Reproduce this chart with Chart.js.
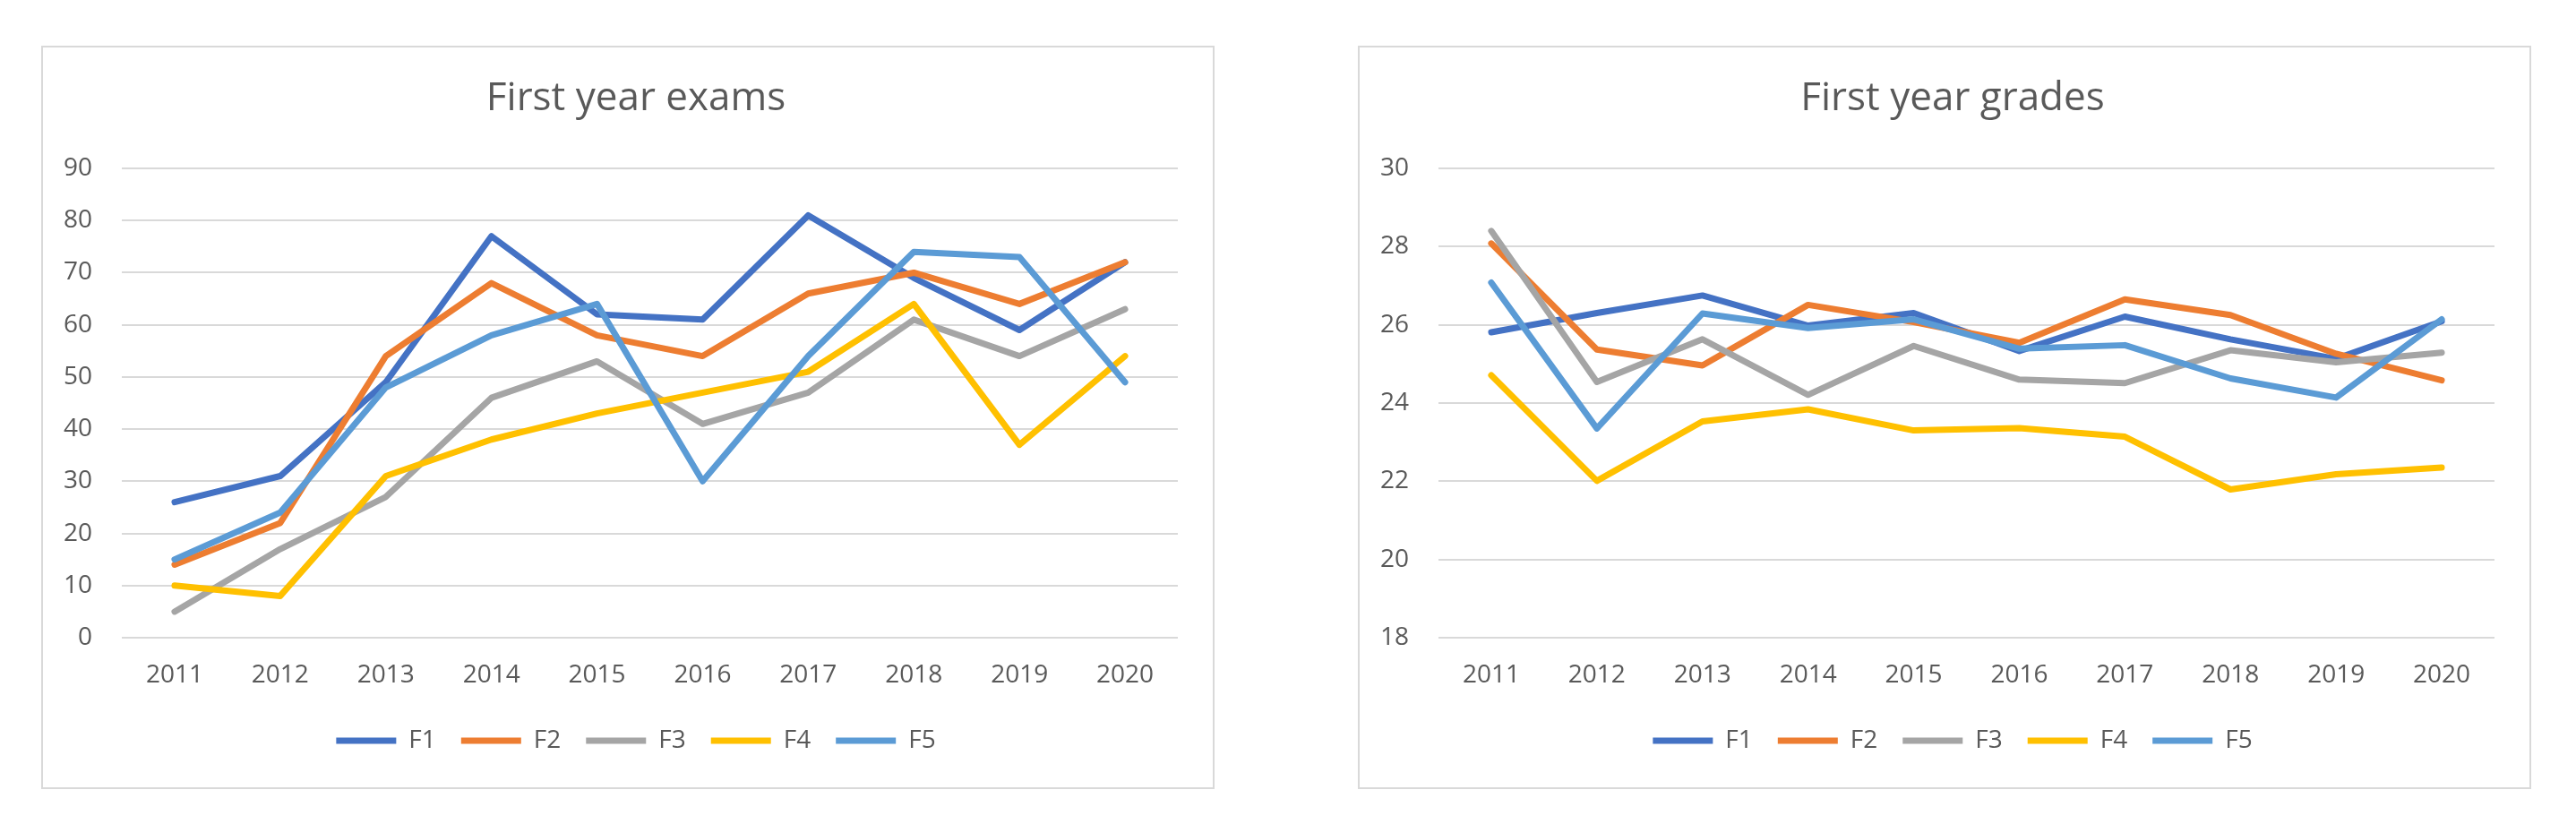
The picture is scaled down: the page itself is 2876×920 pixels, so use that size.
<!DOCTYPE html>
<html><head><meta charset="utf-8">
<script src="https://cdn.jsdelivr.net/npm/chart.js@4"></script>
<style>
html,body{margin:0;padding:0;background:#fff;width:2876px;height:920px;overflow:hidden}
.box{position:absolute;top:51px;width:1306px;height:826px;border:2px solid #D9D9D9;background:#fff}
.box canvas{position:absolute;left:0;top:0}
</style></head><body>
<div class="box" style="left:46px"><canvas id="c1" width="1306" height="826"></canvas></div>
<div class="box" style="left:1516px"><canvas id="c2" width="1306" height="826"></canvas></div>
<script>
const categories = ['2011','2012','2013','2014','2015','2016','2017','2018','2019','2020'];
const seriesNames = ['F1','F2','F3','F4','F5'];

// First year exams
const examsF1 = [26, 31, 49, 77, 62, 61, 81, 69, 59, 72];
const examsF2 = [14, 22, 54, 68, 58, 54, 66, 70, 64, 72];
const examsF3 = [5, 17, 27, 46, 53, 41, 47, 61, 54, 63];
const examsF4 = [10, 8, 31, 38, 43, 47, 51, 64, 37, 54];
const examsF5 = [15, 24, 48, 58, 64, 30, 54, 74, 73, 49];
const examsTicks = [0, 10, 20, 30, 40, 50, 60, 70, 80, 90];

// First year grades
const gradesF1 = [25.81, 26.3, 26.75, 25.98, 26.3, 25.33, 26.21, 25.63, 25.13, 26.09];
const gradesF2 = [28.08, 25.37, 24.96, 26.51, 26.07, 25.54, 26.65, 26.25, 25.26, 24.58];
const gradesF3 = [28.4, 24.54, 25.63, 24.21, 25.46, 24.6, 24.51, 25.35, 25.04, 25.29];
const gradesF4 = [24.71, 22.01, 23.53, 23.84, 23.3, 23.36, 23.14, 21.79, 22.18, 22.35];
const gradesF5 = [27.08, 23.35, 26.29, 25.92, 26.14, 25.39, 25.48, 24.63, 24.14, 26.14];
const gradesTicks = [18, 20, 22, 24, 26, 28, 30];

const colors = ['#4472C4', '#ED7D31', '#A5A5A5', '#FFC000', '#5B9BD5'];
const textColor = '#595959';
const FONT = "'Open Sans', 'Noto Sans', sans-serif";

function makeChart(id, title, series, ticks) {
  const datasets = series.map((d, i) => ({
    label: seriesNames[i],
    data: d,
    borderColor: colors[i],
    backgroundColor: colors[i],
    borderWidth: 7,
    borderCapStyle: 'round',
    borderJoinStyle: 'round',
    pointRadius: 0,
    pointHoverRadius: 0,
    tension: 0,
    fill: false,
    order: series.length - i
  }));
  const step = ticks[1] - ticks[0];
  return new Chart(document.getElementById(id), {
    type: 'line',
    data: { labels: categories, datasets },
    options: {
      responsive: false,
      animation: false,
      devicePixelRatio: 1,
      layout: { padding: { left: 57, right: 39, top: 0, bottom: 28 } },
      plugins: {
        title: {
          display: true,
          text: title,
          color: textColor,
          font: { family: FONT, size: 44, weight: 'normal' },
          padding: { top: 30.6, bottom: 51.6 }
        },
        legend: {
          display: true,
          position: 'bottom',
          labels: {
            usePointStyle: true,
            pointStyle: 'line',
            pointStyleWidth: 67,
            color: textColor,
            font: { family: FONT, size: 28 },
            padding: 28,
            sort: (a, b) => a.datasetIndex - b.datasetIndex
          }
        },
        tooltip: { enabled: false }
      },
      scales: {
        x: {
          offset: true,
          grid: { display: false, drawTicks: false },
          border: { display: false },
          ticks: { color: textColor, font: { family: FONT, size: 28 }, padding: 25, maxRotation: 0, autoSkip: false },
          afterFit: s => { s.height = 73; }
        },
        y: {
          min: ticks[0],
          max: ticks[ticks.length - 1],
          grid: { color: '#D9D9D9', lineWidth: 2, drawTicks: false },
          border: { display: false },
          ticks: {
            stepSize: step, color: textColor, font: { family: FONT, size: 28 },
            mirror: true, crossAlign: 'far', padding: -65
          },
          afterBuildTicks: s => { s.ticks = ticks.map(v => ({ value: v })); },
          afterFit: s => { s.width = 31; }
        }
      }
    }
  });
}

makeChart('c1', 'First year exams', [examsF1, examsF2, examsF3, examsF4, examsF5], examsTicks);
makeChart('c2', 'First year grades', [gradesF1, gradesF2, gradesF3, gradesF4, gradesF5], gradesTicks);
</script>
</body></html>
